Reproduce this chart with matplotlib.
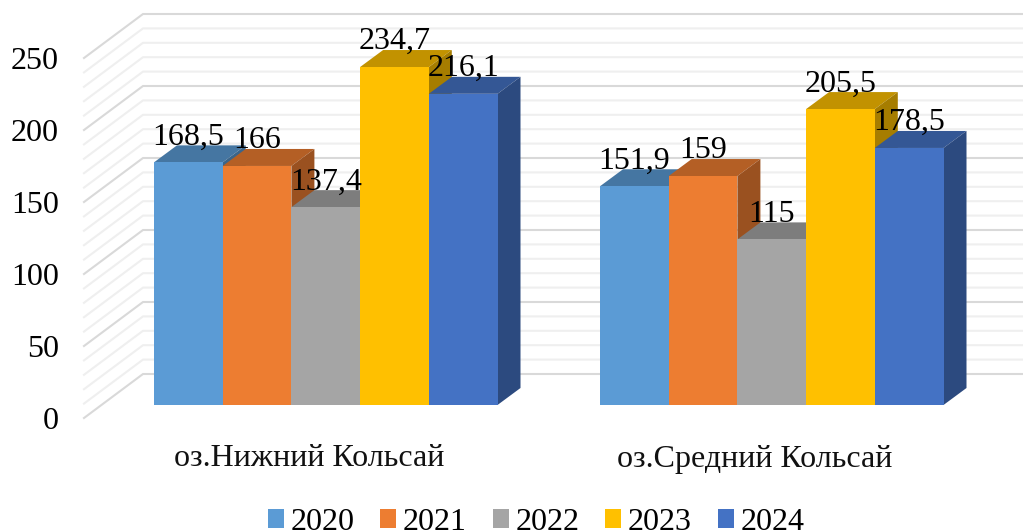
import matplotlib
matplotlib.use('Agg')
import matplotlib.pyplot as plt
from matplotlib.colors import to_rgb
from matplotlib.patches import Patch, Polygon
import numpy as np

plt.rcParams['font.family'] = ['Liberation Serif', 'DejaVu Serif']

lakes = ['оз.Нижний Кольсай', 'оз.Средний Кольсай']
years = ['2020', '2021', '2022', '2023', '2024']
colors = ['#5B9BD5', '#ED7D31', '#A5A5A5', '#FFC000', '#4472C4']
values_2020 = [168.5, 151.9]
values_2021 = [166, 159]
values_2022 = [137.4, 115]
values_2023 = [234.7, 205.5]
values_2024 = [216.1, 178.5]
series = [values_2020, values_2021, values_2022, values_2023, values_2024]
labels_2020 = ['168,5', '151,9']
labels_2021 = ['166', '159']
labels_2022 = ['137,4', '115']
labels_2023 = ['234,7', '205,5']
labels_2024 = ['216,1', '178,5']
labels = [labels_2020, labels_2021, labels_2022, labels_2023, labels_2024]
y_ticks = [0, 50, 100, 150, 200, 250]

W, H = 1023, 531
PX_X = 68.7   # pixels per bar width
PX_Y = 1.44   # pixels per value unit
X0, Y0 = 154, 405   # pixel of first bar's front lower left corner
GROUP_STEP = 446 / PX_X

# depth of a bar and of the whole box, in data units
bar_dx, bar_dy = 23 / PX_X, 17 / PX_Y
wall_dx, wall_dy = 59 / PX_X, 44 / PX_Y
floor_x, floor_y = (84 - X0) / PX_X, (405 - 418) / PX_Y

fig = plt.figure(figsize=(W / 100, H / 100), dpi=100)
ax = fig.add_axes([0, 0, 1, 1])
ax.set_xlim(-X0 / PX_X, (W - X0) / PX_X)
ax.set_ylim((Y0 - H) / PX_Y, Y0 / PX_Y)
ax.axis('off')

# wall gridlines
for v in range(0, 260, 10):
    major = v % 50 == 0
    xs = [floor_x, floor_x + wall_dx, (W - X0) / PX_X]
    ys = [floor_y + v, floor_y + v + wall_dy, floor_y + v + wall_dy]
    ax.plot(xs, ys, color='#d9d9d9' if major else '#efefef', lw=1.5, zorder=1)

for v in y_ticks:
    ax.text(floor_x - 25 / PX_X, floor_y + v, str(v), ha='right', va='center_baseline',
            fontsize=23, color='black', zorder=5)


def shade(color, k):
    return tuple(c * k for c in to_rgb(color))


def draw_bar(x, v, color):
    top = [(x, v), (x + 1, v), (x + 1 + bar_dx, v + bar_dy), (x + bar_dx, v + bar_dy)]
    side = [(x + 1, 0), (x + 1 + bar_dx, bar_dy), (x + 1 + bar_dx, v + bar_dy), (x + 1, v)]
    ax.add_patch(Polygon(top, fc=shade(color, 0.76), ec='none', zorder=2))
    ax.add_patch(Polygon(side, fc=shade(color, 0.65), ec='none', zorder=2))
    ax.bar(x + 0.5, v, width=1, color=color, linewidth=0, zorder=2)


for g in range(len(lakes)):
    for s in range(len(years)):
        draw_bar(g * GROUP_STEP + s, series[s][g], colors[s])

for g in range(len(lakes)):
    for s in range(len(years)):
        ax.text(g * GROUP_STEP + s + 0.5, series[s][g] + bar_dy + 0.5, labels[s][g],
                ha='center', va='baseline', fontsize=23, color='black', zorder=5)
    ax.text(g * GROUP_STEP + 2.5 - 17 / PX_X, (405 - 459) / PX_Y, lakes[g], ha='center',
            va='center', fontsize=23, color='#111111', zorder=5)

handles = [Patch(fc=c, ec='none') for c in colors]
ax.legend(handles, years, loc='lower center', bbox_to_anchor=(0.524, -0.011), ncol=5, frameon=False,
          fontsize=23, handlelength=0.5, handleheight=0.5, handletextpad=0.2,
          columnspacing=0.82, borderpad=0, borderaxespad=0)

fig.savefig('out.png', dpi=100)
